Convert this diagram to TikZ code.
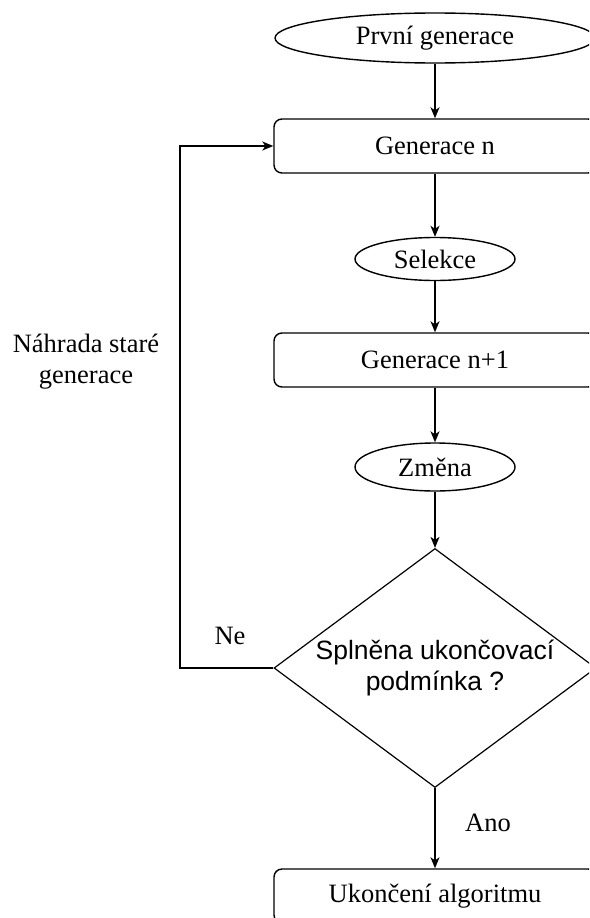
\documentclass[tikz,border=0pt]{standalone}
\usepackage{fontspec}
\setmainfont{Liberation Serif}
\newfontfamily\condfont{Liberation Sans}
\usetikzlibrary{shapes.geometric,arrows.meta}

\begin{document}
\begin{tikzpicture}[x=1pt,y=-1pt,
    every node/.style={font=\fontsize{26.5}{31}\selectfont},
    oval/.style={draw,ellipse,line width=1.4pt,inner sep=0pt},
    box/.style={draw,rounded corners=8pt,line width=1.4pt,inner sep=0pt,
        minimum width=322pt,minimum height=54pt},
    cond/.style={draw,diamond,line width=1.2pt,inner sep=0pt,aspect=1.35,
        minimum width=322pt,minimum height=239pt,align=center,
        font=\condfont\fontsize{26.5}{31}\selectfont},
    arr/.style={line width=1.4pt,-{Stealth[length=11pt,width=9pt,inset=3pt]}}]
    \useasboundingbox (0,0) rectangle (589,918);
    \clip (0,0) rectangle (589,918);
    % main column
    \node[oval,minimum width=320pt,minimum height=50pt] (first) at (435,38) {První generace};
    \node[box] (gen) at (435,146) {Generace n};
    \node[oval,minimum width=160pt,minimum height=43pt] (sel) at (435,259) {Selekce};
    \node[box] (next) at (435,360) {Generace n+1};
    \node[oval,minimum width=160pt,minimum height=48pt] (chg) at (435,467) {Změna};
    \node[cond] (test) at (435,668) {Splněna ukončovací\\podmínka ?};
    \node[box] (stop) at (435,896) {Ukončení algoritmu};
    \draw[arr] (first) -- (gen);
    \draw[arr] (gen) -- (sel);
    \draw[arr] (sel) -- (next);
    \draw[arr] (next) -- (chg);
    \draw[arr] (chg) -- (test);
    \draw[arr] (test) -- (stop);
    % loop back
    \coordinate (back) at (180,668);
    \draw[arr] (test.west) -- (back) |- (gen.west);
    \node (ne) at (230,636) {Ne};
    \node (ano) at (488,823) {Ano};
    \node[align=center] (repl) at (86,362) {Náhrada staré\\generace};
\end{tikzpicture}
\end{document}
